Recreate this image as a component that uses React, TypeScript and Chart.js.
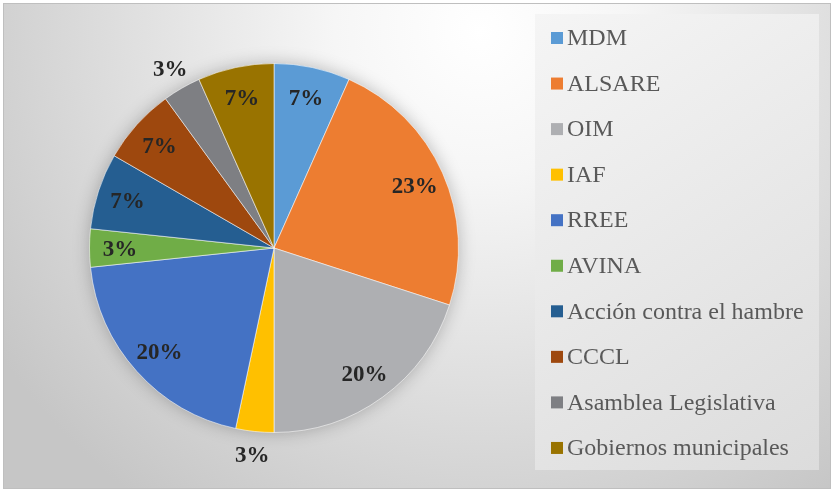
import React, { useEffect, useRef } from "react";
import { Chart, registerables } from "chart.js";

Chart.register(...registerables);

const categories = [
  "MDM",
  "ALSARE",
  "OIM",
  "IAF",
  "RREE",
  "AVINA",
  "Acción contra el hambre",
  "CCCL",
  "Asamblea Legislativa",
  "Gobiernos municipales",
];
const counts = [2, 7, 6, 1, 6, 1, 2, 2, 1, 2];
const sliceColors = [
  "#5B9BD5",
  "#ED7D31",
  "#AEAFB2",
  "#FFC000",
  "#4472C4",
  "#70AD47",
  "#255E91",
  "#9E480E",
  "#7E7F83",
  "#997300",
];
const outsideLabels = ["IAF", "Asamblea Legislativa"];

const total = counts.reduce((a, b) => a + b, 0);
const percentLabels = counts.map((v) => Math.round((v / total) * 100) + "%");

const backgroundPlugin = {
  id: "bgPlugin",
  beforeDraw(chart: any) {
    const ctx = chart.ctx;
    const W = chart.width;
    const H = chart.height;
    ctx.save();
    ctx.fillStyle = "#ffffff";
    ctx.fillRect(0, 0, W, H);
    const g = ctx.createRadialGradient(480, 30, 0, 480, 30, 580);
    g.addColorStop(0, "#ffffff");
    g.addColorStop(0.25, "#f6f6f6");
    g.addColorStop(1, "#c6c6c6");
    ctx.fillStyle = g;
    ctx.fillRect(3, 3, W - 6, H - 6);
    ctx.strokeStyle = "#bfbfbf";
    ctx.lineWidth = 1;
    ctx.strokeRect(3.5, 3.5, W - 7, H - 7);
    // legend panel
    const lg = ctx.createLinearGradient(535, 14, 819, 470);
    lg.addColorStop(0, "#f5f5f5");
    lg.addColorStop(1, "#dcdcdc");
    ctx.fillStyle = lg;
    ctx.fillRect(535, 14, 284, 456);
    ctx.restore();
  },
  beforeDatasetsDraw(chart: any) {
    const ctx = chart.ctx;
    const arc = chart.getDatasetMeta(0).data[0];
    if (!arc) return;
    const p = arc.getProps(["x", "y", "outerRadius"], true);
    ctx.save();
    ctx.shadowColor = "rgba(0,0,0,0.28)";
    ctx.shadowBlur = 18;
    ctx.fillStyle = "#b0b0b0";
    ctx.beginPath();
    ctx.arc(p.x, p.y, p.outerRadius - 1, 0, Math.PI * 2);
    ctx.fill();
    ctx.restore();
  },
};

const labelPlugin = {
  id: "sliceLabels",
  afterDatasetsDraw(chart: any) {
    const ctx = chart.ctx;
    const meta = chart.getDatasetMeta(0);
    ctx.save();
    ctx.font = "bold 23px 'Liberation Serif', 'Times New Roman', serif";
    ctx.fillStyle = "#262626";
    ctx.textAlign = "center";
    ctx.textBaseline = "middle";
    meta.data.forEach((arc: any, i: number) => {
      const p = arc.getProps(["x", "y", "startAngle", "endAngle", "outerRadius"], true);
      const mid = (p.startAngle + p.endAngle) / 2;
      const out = outsideLabels.includes(chart.data.labels[i]);
      const r = out ? p.outerRadius * 1.125 : p.outerRadius * 0.835;
      ctx.fillText(percentLabels[i], p.x + Math.cos(mid) * r, p.y + Math.sin(mid) * r + 2);
    });
    ctx.restore();
  },
};

const legendPlugin = {
  id: "sideLegend",
  afterDraw(chart: any) {
    const ctx = chart.ctx;
    const labels: string[] = chart.data.labels;
    const bg: string[] = chart.data.datasets[0].backgroundColor;
    ctx.save();
    ctx.font = "24px 'Liberation Serif', 'Times New Roman', serif";
    ctx.textAlign = "left";
    ctx.textBaseline = "middle";
    labels.forEach((lab, i) => {
      const cy = 38 + i * 45.55;
      ctx.fillStyle = bg[i];
      ctx.fillRect(551, cy - 6, 12, 12);
      ctx.fillStyle = "#595959";
      ctx.fillText(lab, 567, cy + 1);
    });
    ctx.restore();
  },
};

export default function App() {
  const ref = useRef<HTMLCanvasElement>(null);
  useEffect(() => {
    if (!ref.current) return;
    const chart = new Chart(ref.current, {
      type: "pie",
      data: {
        labels: categories,
        datasets: [
          {
            data: counts,
            backgroundColor: sliceColors,
            borderColor: "rgba(255,255,255,0.55)",
            borderWidth: 1,
          },
        ],
      },
      options: {
        responsive: false,
        animation: false,
        layout: { padding: { top: 63, bottom: 59, left: 89, right: 375 } },
        plugins: {
          legend: { display: false },
          tooltip: { enabled: false },
        },
      },
      plugins: [backgroundPlugin, labelPlugin, legendPlugin],
    });
    return () => chart.destroy();
  }, []);
  return (
    <div style={{ position: "fixed", left: 0, top: 0, width: 834, height: 492 }}>
      <canvas ref={ref} width={834} height={492} style={{ display: "block" }} />
    </div>
  );
}
